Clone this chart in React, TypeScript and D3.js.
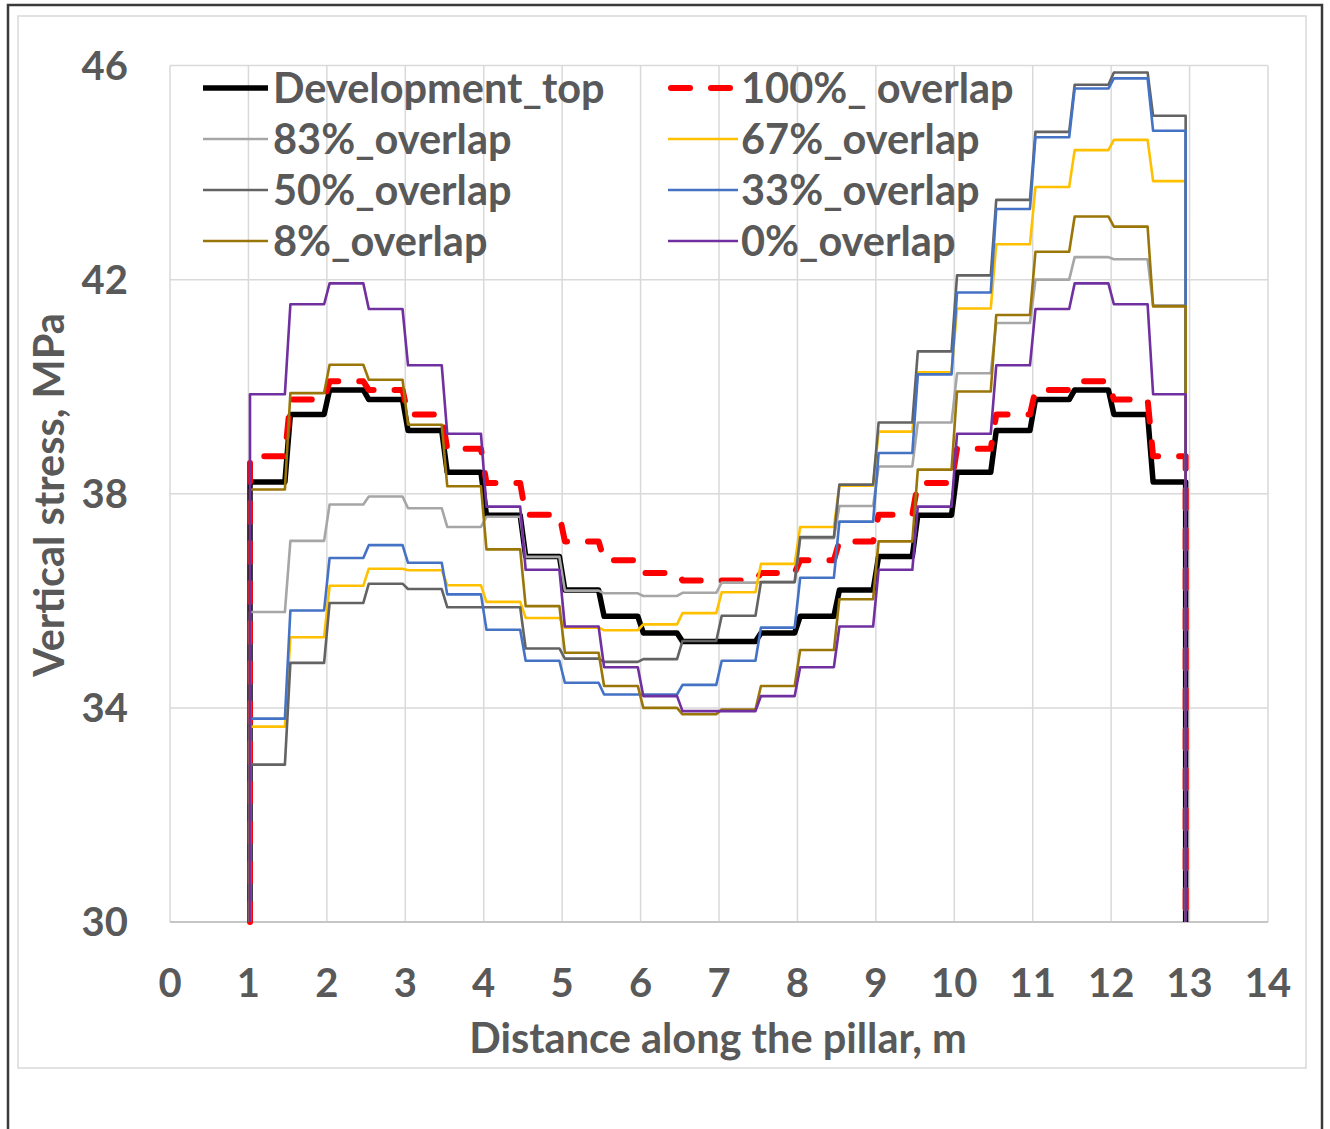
import React from "react";
import * as d3 from "d3";

// Element boundaries along the pillar (m); the first and last are the pillar edges.
const stepEdges = [1.02, 1.5, 2, 2.5, 3, 3.5, 4, 4.5, 5, 5.5, 6, 6.5, 7, 7.5, 8, 8.5, 9, 9.5, 10, 10.5, 11, 11.5, 12, 12.5, 12.95];

// Vertical stress (MPa) in each 0.5 m element
const developmentTop = [38.22, 39.48, 39.94, 39.76, 39.18, 38.4, 37.6, 36.83, 36.2, 35.71, 35.4, 35.24, 35.24, 35.4, 35.71, 36.2, 36.83, 37.6, 38.4, 39.18, 39.76, 39.94, 39.48, 38.22];
const overlap100 = [38.7, 39.76, 40.1, 39.94, 39.48, 38.84, 38.2, 37.61, 37.11, 36.76, 36.52, 36.38, 36.38, 36.52, 36.76, 37.11, 37.61, 38.2, 38.84, 39.48, 39.94, 40.1, 39.76, 38.7];
const overlap83 = [35.79, 37.12, 37.8, 37.95, 37.73, 37.38, 37.57, 36.82, 36.19, 36.14, 36.09, 36.15, 36.34, 36.35, 37.17, 37.77, 38.51, 39.33, 40.25, 41.19, 42.0, 42.42, 42.38, 41.52];
const overlap67 = [33.65, 35.32, 36.28, 36.6, 36.57, 36.29, 35.98, 35.68, 35.5, 35.45, 35.56, 35.77, 36.16, 36.69, 37.38, 38.15, 39.16, 40.27, 41.46, 42.66, 43.73, 44.42, 44.61, 43.84];
const overlap50 = [32.94, 34.84, 35.96, 36.32, 36.22, 35.88, 35.88, 35.11, 34.92, 34.86, 34.91, 35.25, 35.72, 36.35, 37.19, 38.17, 39.33, 40.66, 42.08, 43.49, 44.76, 45.64, 45.87, 45.06];
const overlap33 = [33.8, 35.82, 36.8, 37.04, 36.71, 36.12, 35.46, 34.88, 34.47, 34.25, 34.25, 34.43, 34.88, 35.5, 36.43, 37.48, 38.76, 40.23, 41.76, 43.32, 44.66, 45.57, 45.76, 44.78];
const overlap8 = [38.08, 39.88, 40.41, 40.13, 39.29, 38.14, 36.96, 35.9, 35.03, 34.41, 34.0, 33.88, 33.97, 34.41, 35.08, 36.03, 37.11, 38.45, 39.91, 41.34, 42.52, 43.18, 42.99, 41.5];
const overlap0 = [39.86, 41.54, 41.93, 41.45, 40.4, 39.12, 37.76, 36.58, 35.52, 34.76, 34.22, 33.94, 33.94, 34.22, 34.76, 35.52, 36.58, 37.76, 39.12, 40.4, 41.45, 41.93, 41.54, 39.86];

const seriesNames = ["Development_top", "100%_ overlap", "83%_overlap", "67%_overlap", "50%_overlap", "33%_overlap", "8%_overlap", "0%_overlap"];
const seriesValues = [developmentTop, overlap100, overlap83, overlap67, overlap50, overlap33, overlap8, overlap0];

const xTicks = [0, 1, 2, 3, 4, 5, 6, 7, 8, 9, 10, 11, 12, 13, 14];
const yTicks = [30, 34, 38, 42, 46];

type Style = { color: string; width: number; dash?: string };
const styles: Style[] = [
  { color: "#000000", width: 5.5 },
  { color: "#ff0000", width: 6, dash: "19 21" },
  { color: "#a6a6a6", width: 2.6 },
  { color: "#ffc000", width: 2.6 },
  { color: "#636363", width: 2.6 },
  { color: "#4472c4", width: 2.6 },
  { color: "#9a7608", width: 2.6 },
  { color: "#7030a0", width: 2.6 },
];

const FONT = "Lato, 'Open Sans', sans-serif";
const TEXT = "#595959";
const RAMP = 0.035; // half-width of the slanted jump between elements

function stepPoints(values: number[], floor: number): [number, number][] {
  const n = values.length;
  const pts: [number, number][] = [[stepEdges[0], floor]];
  values.forEach((v, i) => {
    const a = i === 0 ? stepEdges[0] : stepEdges[i] + RAMP;
    const b = i === n - 1 ? stepEdges[n] : stepEdges[i + 1] - RAMP;
    pts.push([a, v], [b, v]);
  });
  pts.push([stepEdges[n], floor]);
  return pts;
}

export default function App() {
  const x = d3.scaleLinear().domain([0, 14]).range([170, 1268]);
  const y = d3.scaleLinear().domain([30, 46]).range([922, 65.5]);
  const line = d3
    .line<[number, number]>()
    .x((d) => x(d[0]))
    .y((d) => y(d[1]));

  const legendRows = [88, 139, 190, 241];
  const legendCols = [
    { x0: 203, x1: 268, tx: 273 },
    { x0: 668, x1: 738, tx: 741 },
  ];

  return (
    <svg
      width={1330}
      height={1129}
      style={{ position: "absolute", left: 0, top: 0, background: "#fff" }}
      fontFamily={FONT}
    >
      <rect x={0} y={0} width={1330} height={1129} fill="#fff" />
      {/* outer frame */}
      <rect x={8} y={5} width={1314} height={1140} fill="none" stroke="#3a3a3a" strokeWidth={2.5} />
      {/* chart area */}
      <rect x={18} y={16} width={1288} height={1052} fill="none" stroke="#d9d9d9" strokeWidth={1.5} />

      {/* gridlines */}
      {xTicks.map((t) => (
        <line key={"gx" + t} x1={x(t)} x2={x(t)} y1={y(46)} y2={y(30)} stroke="#d9d9d9" strokeWidth={1.5} />
      ))}
      {yTicks.map((t) => (
        <line key={"gy" + t} x1={x(0)} x2={x(14)} y1={y(t)} y2={y(t)} stroke={t === 30 ? "#c6c6c6" : "#d9d9d9"} strokeWidth={t === 30 ? 2 : 1.5} />
      ))}

      {/* tick labels */}
      {yTicks.map((t) => (
        <text key={"ty" + t} x={128} y={y(t)} dy="0.36em" textAnchor="end" fontSize={40} fontWeight={700} fill={TEXT}>
          {t}
        </text>
      ))}
      {xTicks.map((t) => (
        <text key={"tx" + t} x={x(t)} y={983} dy="0.36em" textAnchor="middle" fontSize={40} fontWeight={700} fill={TEXT}>
          {t}
        </text>
      ))}

      {/* axis titles */}
      <text x={718} y={1053} textAnchor="middle" fontSize={41.5} fontWeight={700} fill={TEXT}>
        Distance along the pillar, m
      </text>
      <text
        transform={`translate(64, 495) rotate(-90)`}
        textAnchor="middle"
        fontSize={41.5}
        fontWeight={700}
        fill={TEXT}
      >
        Vertical stress, MPa
      </text>

      {/* series */}
      {seriesValues.map((vals, i) => (
        <path
          key={"s" + i}
          d={line(stepPoints(vals, 30)) || ""}
          fill="none"
          stroke={styles[i].color}
          strokeWidth={styles[i].width}
          strokeDasharray={styles[i].dash}
          strokeLinecap={styles[i].dash ? "round" : "butt"}
          strokeLinejoin="round"
        />
      ))}

      {/* legend */}
      {seriesNames.map((name, i) => {
        const col = legendCols[i % 2];
        const ry = legendRows[Math.floor(i / 2)];
        const s = styles[i];
        return (
          <g key={"lg" + i}>
            <line
              x1={col.x0 + (s.dash ? 3 : 0)}
              x2={col.x1}
              y1={ry}
              y2={ry}
              stroke={s.color}
              strokeWidth={s.width}
              strokeDasharray={s.dash}
              strokeLinecap={s.dash ? "round" : "butt"}
            />
            <text x={col.tx} y={ry} dy="0.36em" fontSize={41.5} fontWeight={700} fill={TEXT}>
              {name}
            </text>
          </g>
        );
      })}
    </svg>
  );
}
